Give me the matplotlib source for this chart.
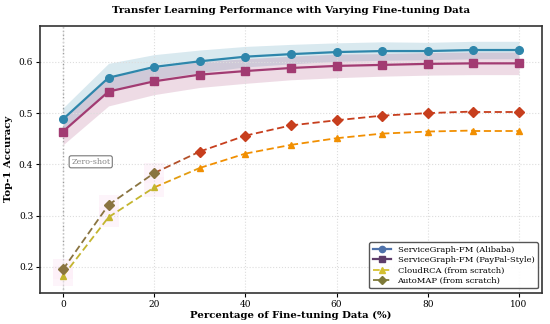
import matplotlib
matplotlib.use("Agg")
import matplotlib.pyplot as plt
from matplotlib.lines import Line2D
import numpy as np

plt.rcParams['font.family'] = 'DejaVu Serif'

pct = [0, 10, 20, 30, 40, 50, 60, 70, 80, 90, 100]
alibaba = [0.488, 0.569, 0.590, 0.601, 0.610, 0.615, 0.619, 0.621, 0.621, 0.623, 0.623]
alibaba_std = [0.022, 0.028, 0.024, 0.022, 0.020, 0.019, 0.018, 0.018, 0.017, 0.017, 0.017]
paypal = [0.464, 0.542, 0.562, 0.575, 0.582, 0.588, 0.592, 0.594, 0.596, 0.597, 0.597]
paypal_std = [0.026, 0.028, 0.026, 0.025, 0.024, 0.023, 0.023, 0.022, 0.022, 0.022, 0.022]
cloudrca = [0.182, 0.297, 0.355, 0.393, 0.421, 0.438, 0.451, 0.460, 0.464, 0.466, 0.466]
automap = [0.195, 0.321, 0.383, 0.425, 0.456, 0.476, 0.486, 0.495, 0.500, 0.503, 0.503]

labels = ['ServiceGraph-FM (Alibaba)', 'ServiceGraph-FM (PayPal-Style)',
          'CloudRCA (from scratch)', 'AutoMAP (from scratch)']

fig, ax = plt.subplots(figsize=(5.5, 3.24), dpi=100)

x = np.array(pct)
a = np.array(alibaba); sa = np.array(alibaba_std)
p = np.array(paypal); sp = np.array(paypal_std)

ax.fill_between(x, a - sa, a + sa, color='#2E86AB', alpha=0.18, lw=0)
ax.fill_between(x, p - sp, p + sp, color='#A23B72', alpha=0.18, lw=0)
ax.plot(x, a, color='#2E86AB', lw=1.6, marker='o', ms=5.5, zorder=4)
ax.plot(x, p, color='#A23B72', lw=1.6, marker='s', ms=5.5, zorder=4)

# faint highlight behind the early points of the scratch models
ax.scatter(x[:3], cloudrca[:3], marker='s', s=200, color='#fdeef8', alpha=0.6, lw=0, zorder=1)
ax.scatter(x[:3], automap[:3], marker='s', s=200, color='#fdeef8', alpha=0.6, lw=0, zorder=1)

def blend(c1, c2, t):
    c1 = np.array(matplotlib.colors.to_rgb(c1))
    c2 = np.array(matplotlib.colors.to_rgb(c2))
    return tuple(c1 * (1 - t) + c2 * t)

def grad_line(y, c_start, c_end, marker, ms):
    y = np.array(y)
    for i in range(len(x) - 1):
        t = min(max((i - 1.0) / 1.5, 0), 1)
        ax.plot(x[i:i + 2], y[i:i + 2], color=blend(c_start, c_end, t), lw=1.3,
                ls='--', dashes=(4, 2), zorder=3)
    for i in range(len(x)):
        t = 0 if i < 3 else 1
        ax.plot(x[i], y[i], marker=marker, ms=ms, color=blend(c_start, c_end, t), zorder=3)

grad_line(cloudrca, '#c4b52e', '#F18F01', '^', 5)
grad_line(automap, '#8a7440', '#C73E1D', 'D', 5)

ax.axvline(0, color='#999999', ls=':', lw=1, zorder=0)
ax.text(1.8, 0.405, 'Zero-shot', fontsize=5.8, color='#888888', va='center',
        bbox=dict(boxstyle='round,pad=0.25', fc='white', ec='#777777', lw=0.8))

ax.set_xlim(-5, 105)
ax.set_ylim(0.15, 0.67)
ax.set_xticks([0, 20, 40, 60, 80, 100])
ax.set_yticks([0.2, 0.3, 0.4, 0.5, 0.6])
ax.tick_params(labelsize=6.5, pad=2, length=3)
ax.grid(True, ls=':', color='#dddddd', lw=0.8)
for s in ax.spines.values():
    s.set_linewidth(1.2)
    s.set_color('#333333')

ax.set_xlabel('Percentage of Fine-tuning Data (%)', fontsize=7.3, fontweight='bold', labelpad=2)
ax.set_ylabel('Top-1 Accuracy', fontsize=7.3, fontweight='bold', labelpad=4)
ax.set_title('Transfer Learning Performance with Varying Fine-tuning Data',
             fontsize=7.4, fontweight='bold', pad=9)

handles = [
    Line2D([], [], color='#4f72aa', marker='o', lw=1.6, ms=4.5),
    Line2D([], [], color='#5e3d6a', marker='s', lw=1.6, ms=4.5),
    Line2D([], [], color='#d4c030', marker='^', lw=1.3, ls='--', ms=4.5),
    Line2D([], [], color='#7e7a38', marker='D', lw=1.3, ls='--', ms=4),
]
leg = ax.legend(handles, labels, loc='lower right', fontsize=6.0, frameon=True,
                fancybox=True, framealpha=0.9, edgecolor='#444444',
                handlelength=2.2, borderpad=0.4, labelspacing=0.3)
leg.get_frame().set_linewidth(1.0)

fig.subplots_adjust(left=0.073, right=0.985, top=0.92, bottom=0.097)
fig.savefig('out.png', dpi=100)
